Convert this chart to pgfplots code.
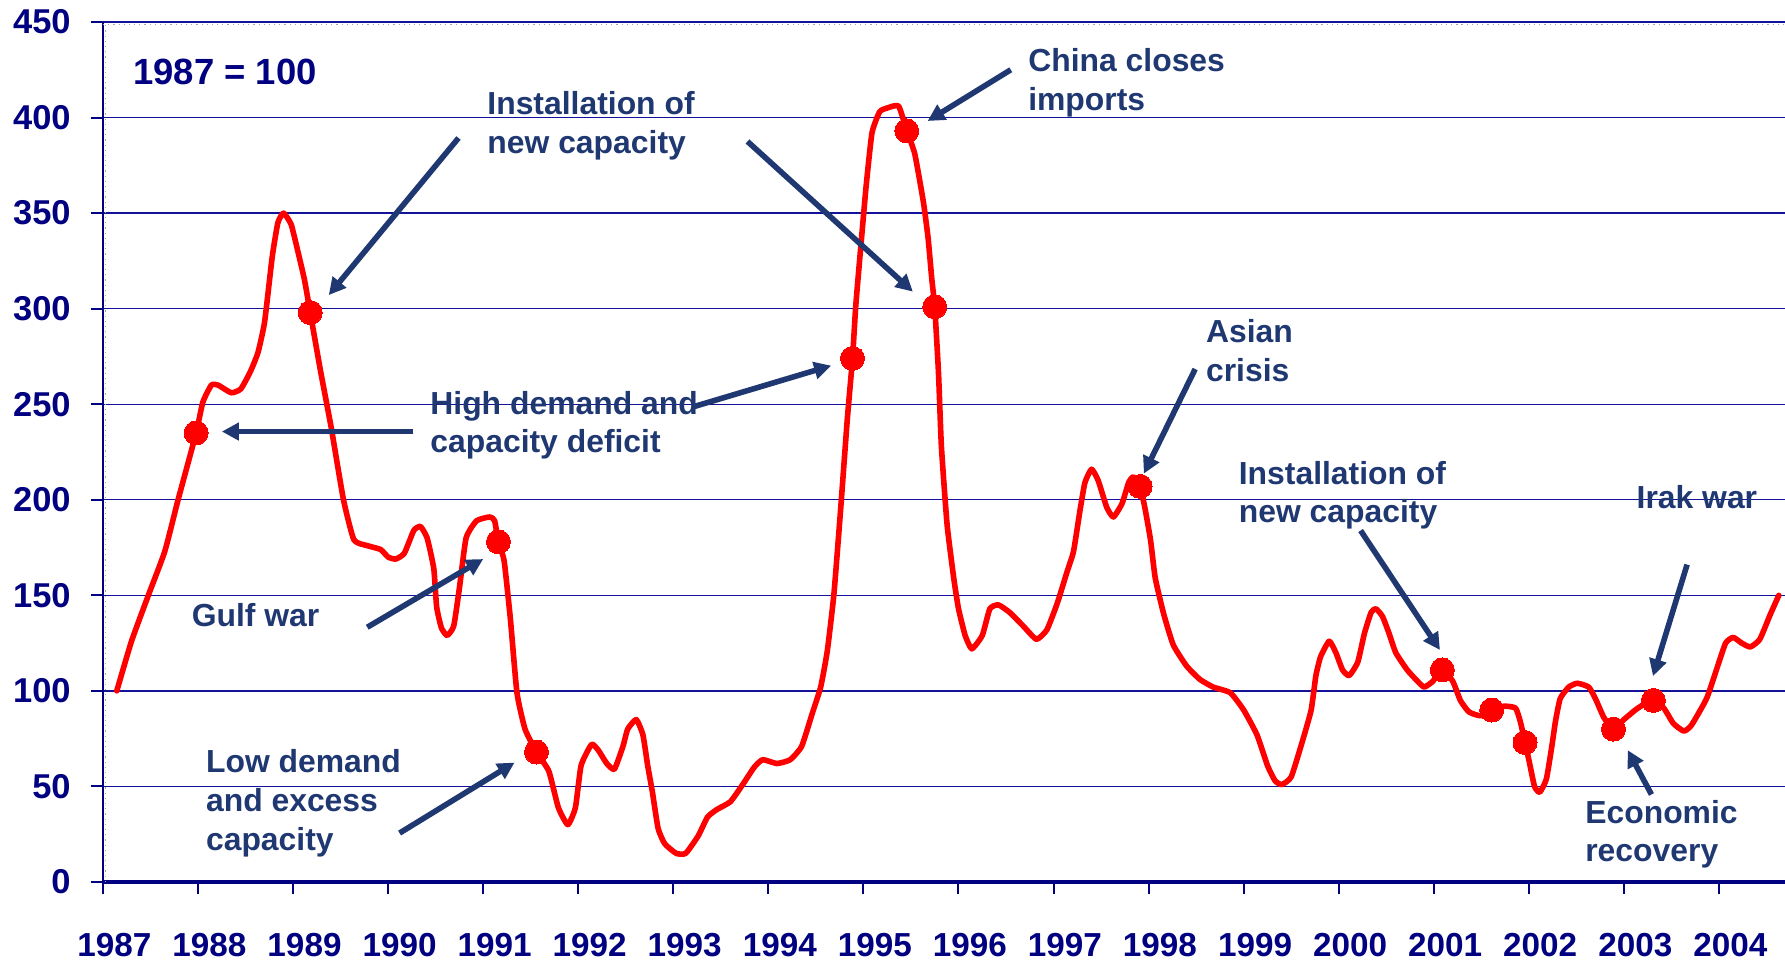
\documentclass[border=0pt]{standalone}
\usepackage{pgfplots}
\pgfplotsset{compat=1.18}
\usepackage{fontspec}
\setmainfont{Liberation Sans}
\usetikzlibrary{arrows.meta}
\definecolor{navyt}{HTML}{000080}
\definecolor{annot}{HTML}{1F3872}
\definecolor{gridc}{HTML}{12129A}
\definecolor{redc}{HTML}{FF0000}
\newcommand\af{\bfseries\fontsize{16}{19.5}\selectfont}
\tikzset{arr/.style={annot, line width=2.8bp, -{Triangle[length=8.5bp,width=8.5bp]}}}
\begin{document}
\begin{tikzpicture}
\begin{axis}[
 scale only axis, width=841bp, height=430bp,
 xmin=1987, xmax=2004.695, ymin=0, ymax=450,
 clip=false,
 axis x line*=bottom, axis y line*=left,
 x axis line style={navyt, line width=1.6bp},
 y axis line style={navyt, line width=1bp},
 ytick={0,50,...,450},
 yticklabels={0,50,100,150,200,250,300,350,400,450},
 ytick align=outside,
 major tick length=6bp,
 ymajorgrids, grid style={gridc, line width=0.7bp},
 xtick=\empty,
 minor xtick={1987.5,1988.5,...,2004.5},
 minor tick length=3.5bp,
 xtick align=inside,
 every tick/.style={navyt, line width=1bp},
 extra x ticks={1987,1988,...,2004},
 extra x tick labels={1987,1988,1989,1990,1991,1992,1993,1994,1995,1996,1997,1998,1999,2000,2001,2002,2003,2004},
 extra x tick style={tick align=outside, major tick length=6bp},
 xticklabel style={font=\bfseries\fontsize{16.7}{20}\selectfont, text=navyt, inner sep=0pt, anchor=north, xshift=5.7bp, yshift=-19.5bp},
 yticklabel style={font=\bfseries\fontsize{17.3}{20}\selectfont, text=navyt, inner sep=0pt, anchor=east, xshift=-10bp},
]
\coordinate (SW) at (rel axis cs:0,0);
\coordinate (NE) at (rel axis cs:1,1);
\draw[gray!70, dotted, line width=0.6bp] ([xshift=1.4bp]rel axis cs:0,0) -- ([xshift=1.4bp]rel axis cs:0,1);
\draw[gray!70, dotted, line width=0.6bp] ([yshift=-1.4bp]rel axis cs:0,1) -- ([yshift=-1.4bp]rel axis cs:1,1);

\addplot[redc, line width=2.8bp, line join=round, line cap=round, smooth, tension=0.3] coordinates {
(1987.145,100) (1987.30,126) (1987.477,150) (1987.65,173) (1987.79,200) (1987.98,235)
(1988.05,251) (1988.14,260) (1988.21,260) (1988.35,256) (1988.45,258) (1988.55,267)
(1988.63,277) (1988.70,293) (1988.78,327) (1988.84,345) (1988.90,350) (1988.98,344)
(1989.05,330) (1989.12,315) (1989.18,298) (1989.29,267) (1989.40,238) (1989.53,200)
(1989.64,179) (1989.78,176) (1989.92,174) (1990.00,170) (1990.08,169) (1990.17,172)
(1990.27,184) (1990.34,186) (1990.41,180) (1990.48,164) (1990.51,144) (1990.56,133)
(1990.62,129) (1990.69,134) (1990.75,154) (1990.82,180) (1990.93,189) (1991.07,191)
(1991.12,189) (1991.16,178) (1991.22,168) (1991.285,138) (1991.355,99) (1991.44,80)
(1991.56,68) (1991.69,58) (1991.79,39) (1991.89,30) (1991.97,39) (1992.03,61)
(1992.14,72) (1992.21,69) (1992.30,62) (1992.38,59) (1992.47,71) (1992.52,80)
(1992.61,85) (1992.68,77) (1992.73,61) (1992.78,47) (1992.84,28) (1992.91,20)
(1993.03,15) (1993.13,15) (1993.26,24) (1993.36,34) (1993.46,38) (1993.60,42)
(1993.73,51) (1993.85,60) (1993.94,64) (1994.09,62) (1994.23,64) (1994.35,71)
(1994.46,88) (1994.55,102) (1994.62,121) (1994.69,151) (1994.76,195) (1994.83,242)
(1994.885,274) (1994.92,302) (1994.98,337) (1995.03,365) (1995.09,392) (1995.17,403)
(1995.25,405) (1995.37,406) (1995.456,393) (1995.54,381) (1995.63,356) (1995.68,337)
(1995.72,315) (1995.75,301) (1995.79,266) (1995.82,228) (1995.88,187) (1995.95,159)
(1996.00,143) (1996.07,129) (1996.14,122) (1996.25,129) (1996.33,143) (1996.42,145)
(1996.54,141) (1996.68,134) (1996.82,127) (1996.93,132) (1997.04,146) (1997.14,162)
(1997.21,173) (1997.28,195) (1997.33,209) (1997.40,216) (1997.47,210) (1997.56,196)
(1997.63,191) (1997.72,198) (1997.79,209) (1997.84,212) (1997.91,207) (1997.96,196)
(1998.02,179) (1998.07,159) (1998.16,140) (1998.26,124) (1998.40,113) (1998.54,106)
(1998.68,102) (1998.86,99) (1999.00,90) (1999.14,77) (1999.25,61) (1999.33,53)
(1999.40,51) (1999.50,55) (1999.62,74) (1999.71,90) (1999.76,108) (1999.81,118)
(1999.90,126) (1999.97,120) (2000.04,111) (2000.11,108) (2000.20,115) (2000.27,130)
(2000.34,141) (2000.39,143) (2000.46,139) (2000.53,130) (2000.60,120) (2000.72,111)
(2000.83,105) (2000.90,102) (2000.99,105) (2001.09,111) (2001.20,105) (2001.28,95)
(2001.37,89) (2001.49,87) (2001.61,90) (2001.74,92) (2001.86,91) (2001.91,84)
(2001.96,73) (2002.00,64) (2002.06,50) (2002.115,47) (2002.185,54) (2002.245,72)
(2002.28,84) (2002.33,96) (2002.42,102) (2002.51,104) (2002.63,102) (2002.70,96)
(2002.79,86) (2002.89,80) (2003.00,85) (2003.12,90) (2003.21,93) (2003.31,95)
(2003.42,91) (2003.52,83) (2003.63,79) (2003.71,82) (2003.87,96) (2003.98,112)
(2004.07,125) (2004.15,128) (2004.24,125) (2004.33,123) (2004.43,127) (2004.54,140)
(2004.63,150)
};
\addplot[only marks, mark=*, mark size=6bp, mark options={fill=redc, draw=redc, line width=0pt}] coordinates {
(1987.98,235) (1989.18,298) (1991.16,178) (1991.56,68) (1994.885,274) (1995.456,393)
(1995.75,301) (1997.91,207) (2001.09,111) (2001.61,90) (2001.96,73) (2002.89,80) (2003.31,95)
};

% annotations
\node[anchor=west, inner sep=0pt, text=navyt, font=\bfseries\fontsize{18.3}{22}\selectfont] at (axis cs:1987.315,423.8) {1987 = 100};
\node[anchor=west, inner sep=0pt, align=left, text=annot, font=\af] at (axis cs:1991.04,395.8) {Installation of\\new capacity};
\draw[arr] (axis cs:1990.74,389.3) -- (axis cs:1989.375,307.1);
\draw[arr] (axis cs:1993.78,387.5) -- (axis cs:1995.52,308.9);
\node[anchor=west, inner sep=0pt, align=left, text=annot, font=\af] at (axis cs:1996.73,418.4) {China closes\\imports};
\draw[arr] (axis cs:1996.55,425) -- (axis cs:1995.675,398.2);
\node[anchor=west, inner sep=0pt, align=left, text=annot, font=\af] at (axis cs:1990.44,239) {High demand and\\capacity deficit};
\draw[arr] (axis cs:1990.26,235.7) -- (axis cs:1988.25,235.7);
\draw[arr] (axis cs:1993.22,248.8) -- (axis cs:1994.66,270.2);
\node[anchor=west, inner sep=0pt, align=left, text=annot, font=\af] at (axis cs:1987.93,139.9) {Gulf war};
\draw[arr] (axis cs:1989.78,133.3) -- (axis cs:1991.0,169);
\node[anchor=west, inner sep=0pt, align=left, text=annot, font=\af] at (axis cs:1988.08,41.1) {Low demand\\and excess\\capacity};
\draw[arr] (axis cs:1990.12,25.6) -- (axis cs:1991.33,62.5);
\node[anchor=west, inner sep=0pt, align=left, text=annot, font=\af] at (axis cs:1998.6,278) {Asian\\crisis};
\draw[arr] (axis cs:1998.49,268.4) -- (axis cs:1997.95,213.7);
\node[anchor=west, inner sep=0pt, align=left, text=annot, font=\af] at (axis cs:1998.945,202.4) {Installation of\\new capacity};
\draw[arr] (axis cs:2000.23,183.9) -- (axis cs:2001.065,121.4);
\node[anchor=west, inner sep=0pt, align=left, text=annot, font=\af] at (axis cs:2003.13,201.2) {Irak war};
\draw[arr] (axis cs:2003.665,166.1) -- (axis cs:2003.306,107.7);
\node[anchor=west, inner sep=0pt, align=left, text=annot, font=\af] at (axis cs:2002.59,25) {Economic\\recovery};
\draw[arr] (axis cs:2003.29,45.8) -- (axis cs:2003.04,69);
\end{axis}
\pgfresetboundingbox
\path ([shift={(-51.5bp,-40bp)}]SW) rectangle ([shift={(0bp,11bp)}]NE);
\end{tikzpicture}
\end{document}
